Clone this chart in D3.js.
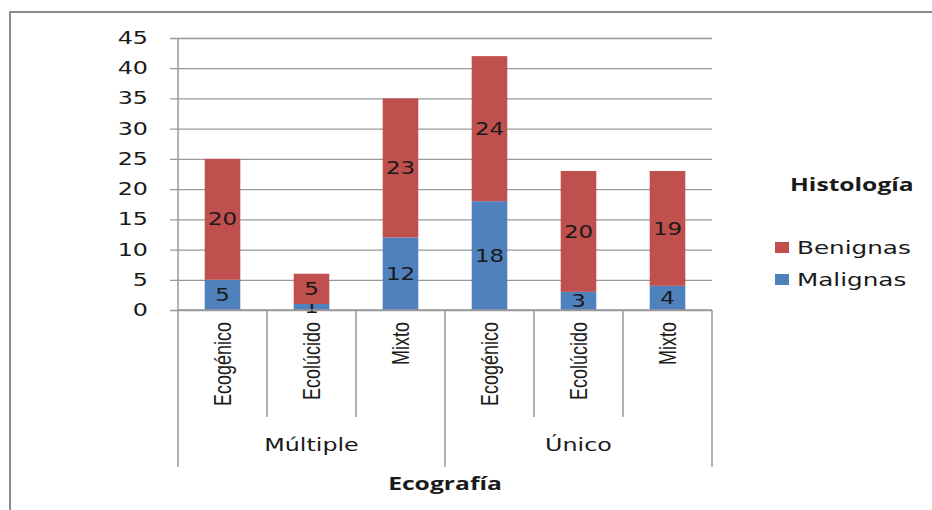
<!DOCTYPE html>
<html>
<head>
<meta charset="utf-8">
<script src="https://cdn.jsdelivr.net/npm/d3@7"></script>
<style>
  body { margin: 0; background: #fff; }
  text { fill: #1a1a1a; }
</style>
</head>
<body>
<div id="chart"></div>
<script>
// data
var groups = ["Múltiple", "Único"];
var categories = ["Ecogénico", "Ecolúcido", "Mixto", "Ecogénico", "Ecolúcido", "Mixto"];
var malignas = [5, 1, 12, 18, 3, 4];
var benignas = [20, 5, 23, 24, 20, 19];
var yTicks = [0, 5, 10, 15, 20, 25, 30, 35, 40, 45];

var W = 932, H = 510;
var margin = { top: 38, left: 178, right: 220, bottom: 200 };
var width = 712 - margin.left,
    height = 310 - margin.top;

// the source picture is stretched sideways, so widen the text to match
function stretch(sel, k) {
    sel.each(function () {
        var len = this.getComputedTextLength();
        d3.select(this)
            .attr("textLength", len * k)
            .attr("lengthAdjust", "spacingAndGlyphs");
    });
}

var svg = d3.select("#chart").append("svg")
    .attr("width", W)
    .attr("height", H);

// outer frame (only left and top edges are in view)
svg.append("path")
    .attr("d", "M10," + H + "V12H" + W)
    .attr("fill", "none")
    .attr("stroke", "#8c8c8c")
    .attr("stroke-width", 2);

var g = svg.append("g")
    .attr("transform", "translate(" + margin.left + "," + margin.top + ")");

var keys = categories.map(function (d, i) { return i; });
var x = d3.scaleBand()
    .domain(keys)
    .range([0, width])
    .paddingInner(0.6)
    .paddingOuter(0.3);

var y = d3.scaleLinear()
    .domain([0, 45])
    .range([height, 0]);

// gridlines + y axis
var yAxis = g.append("g")
    .call(d3.axisLeft(y).tickValues(yTicks).tickSize(-width).tickSizeOuter(0).tickPadding(30));
yAxis.select(".domain").remove();
yAxis.selectAll("line")
    .attr("x1", -8)
    .attr("stroke", "#999")
    .attr("stroke-width", 1.3);
yAxis.selectAll("text")
    .style("font-family", "'DejaVu Sans', sans-serif")
    .style("font-size", "17px")
    .attr("fill", "#222")
    .call(stretch, 1.4);

// left axis line
g.append("line")
    .attr("x1", 0).attr("x2", 0)
    .attr("y1", 0).attr("y2", height + 157)
    .attr("stroke", "#999").attr("stroke-width", 1.5);

// stacked bars
var rows = categories.map(function (c, i) {
    return { key: i, Malignas: malignas[i], Benignas: benignas[i] };
});
var series = d3.stack().keys(["Malignas", "Benignas"])(rows);
var color = d3.scaleOrdinal()
    .domain(["Malignas", "Benignas"])
    .range(["#4f81bd", "#c0504d"]);

var layer = g.selectAll("g.layer")
    .data(series)
    .enter().append("g")
    .attr("class", "layer")
    .attr("fill", function (d) { return color(d.key); });

layer.selectAll("rect")
    .data(function (d) { return d; })
    .enter().append("rect")
    .attr("x", function (d) { return x(d.data.key); })
    .attr("y", function (d) { return y(d[1]); })
    .attr("width", x.bandwidth())
    .attr("height", function (d) { return y(d[0]) - y(d[1]); });

// value labels
layer.selectAll("text")
    .data(function (d) { return d; })
    .enter().append("text")
    .attr("x", function (d) { return x(d.data.key) + x.bandwidth() / 2; })
    .attr("y", function (d) { return y((d[0] + d[1]) / 2); })
    .attr("dy", "0.36em")
    .attr("text-anchor", "middle")
    .style("font-family", "'DejaVu Sans', sans-serif")
    .style("font-size", "17px")
    .text(function (d) { return d[1] - d[0]; })
    .call(stretch, 1.35);

// bottom axis line
g.append("line")
    .attr("x1", 0).attr("x2", width)
    .attr("y1", height).attr("y2", height)
    .attr("stroke", "#999").attr("stroke-width", 1.3);

// category separators and labels
var step = x.step();
var x0 = x(0) - x.paddingOuter() * step;
keys.forEach(function (k, i) {
    if (i > 0) {
        var sx = x0 + i * step;
        g.append("line")
            .attr("x1", sx).attr("x2", sx)
            .attr("y1", height).attr("y2", height + (i % 3 === 0 ? 157 : 107))
            .attr("stroke", "#999").attr("stroke-width", 1.5);
    }
});
g.append("line")
    .attr("x1", width).attr("x2", width)
    .attr("y1", height).attr("y2", height + 157)
    .attr("stroke", "#999").attr("stroke-width", 1.5);

g.selectAll("text.cat")
    .data(keys)
    .enter().append("text")
    .attr("class", "cat")
    .attr("transform", function (d) {
        return "translate(" + (x(d) + x.bandwidth() / 2 + 8) + "," + (height + 12) + ") rotate(-90) scale(1,1.3)";
    })
    .attr("text-anchor", "end")
    .style("font-family", "'Liberation Sans Narrow', 'Liberation Sans', sans-serif")
    .style("font-size", "18px")
    .text(function (d) { return categories[d]; });

// group labels
g.selectAll("text.grp")
    .data(groups)
    .enter().append("text")
    .attr("class", "grp")
    .attr("x", function (d, i) { return x0 + (i * 3 + 1.5) * step; })
    .attr("y", height + 141)
    .attr("text-anchor", "middle")
    .style("font-family", "'DejaVu Sans', sans-serif")
    .style("font-size", "17px")
    .text(function (d) { return d; })
    .call(stretch, 1.4);

// axis title
g.append("text")
    .attr("x", width / 2)
    .attr("y", height + 180)
    .attr("text-anchor", "middle")
    .style("font-family", "'Open Sans', sans-serif")
    .style("font-weight", "bold")
    .style("font-size", "17px")
    .text("Ecografía")
    .call(stretch, 1.45);

// legend
var legend = svg.append("g").attr("transform", "translate(775,0)");
legend.append("text")
    .attr("x", 15).attr("y", 191)
    .style("font-family", "'Open Sans', sans-serif")
    .style("font-weight", "bold")
    .style("font-size", "17px")
    .text("Histología")
    .call(stretch, 1.45);

var legendKeys = ["Benignas", "Malignas"];
legend.selectAll("rect")
    .data(legendKeys)
    .enter().append("rect")
    .attr("x", 0)
    .attr("y", function (d, i) { return 242 + i * 32; })
    .attr("width", 14).attr("height", 11)
    .attr("fill", function (d) { return color(d); });
legend.selectAll("text.lg")
    .data(legendKeys)
    .enter().append("text")
    .attr("class", "lg")
    .attr("x", 22)
    .attr("y", function (d, i) { return 248 + i * 32; })
    .attr("dy", "0.36em")
    .style("font-family", "'DejaVu Sans', sans-serif")
    .style("font-size", "17px")
    .text(function (d) { return d; })
    .call(stretch, 1.45);
</script>
</body>
</html>
